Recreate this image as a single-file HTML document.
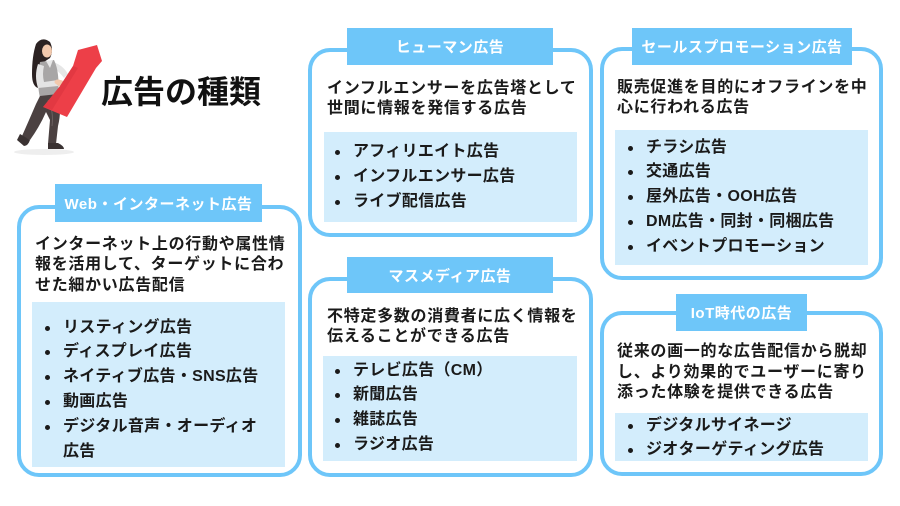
<!DOCTYPE html>
<html lang="ja">
<head>
<meta charset="utf-8">
<style>
  html,body{margin:0;padding:0;background:#fff;}
  body{width:900px;height:506px;position:relative;overflow:hidden;
    font-family:"Liberation Sans","Noto Sans CJK JP",sans-serif;color:#1a1a1a;}
  .box{position:absolute;box-sizing:border-box;border:4px solid #6EC6F9;border-radius:22px;background:#fff;}
  .lbl{position:absolute;background:#6EC6F9;color:#fff;font-weight:700;font-size:15px;
    letter-spacing:0.5px;text-align:center;white-space:nowrap;display:flex;align-items:center;justify-content:center;}
  .fill{position:absolute;background:#D3EDFC;}
  .desc{position:absolute;font-weight:700;font-size:16px;line-height:20.5px;letter-spacing:0.7px;white-space:nowrap;}
  .list{position:absolute;font-weight:700;font-size:16px;line-height:24.8px;letter-spacing:0.3px;white-space:nowrap;}
  .list div{position:relative;padding-left:16px;height:24.8px;}
  .list div.b::before{content:"";position:absolute;left:-2.5px;top:10px;width:5px;height:5px;border-radius:50%;background:#1a1a1a;}
  .title{position:absolute;left:101px;top:72px;font-size:32px;font-weight:700;line-height:40px;color:#111;white-space:nowrap;letter-spacing:0;}
</style>
</head>
<body>

<!-- Figure -->
<svg style="position:absolute;left:0;top:30px" width="110" height="130" viewBox="0 30 110 130">
  <ellipse cx="44" cy="152" rx="30" ry="3" fill="#eeeeee"/>
  <!-- hair -->
  <path d="M36 44 Q42 36 50 42 Q54 50 50 58 L44 62 Q40 78 38 88 Q32 86 32 74 Q32 56 36 44 Z" fill="#2b2222"/>
  <!-- face -->
  <ellipse cx="47" cy="51" rx="5" ry="6.5" fill="#f2c9ad"/>
  <!-- back arm sleeve -->
  <path d="M52 62 Q62 64 68 74 L64 78 Q58 70 52 68 Z" fill="#e6e6e6"/>
  <!-- sweater -->
  <path d="M40 62 L54 60 Q60 72 58 96 L40 98 Q36 80 40 62 Z" fill="#a8a6a6"/>
  <path d="M46 61 L50 68 L53 60 Z" fill="#e8e8e8"/>
  <!-- front arm -->
  <path d="M38 64 Q34 76 38 88 L58 86 L58 80 L44 82 Q42 74 44 66 Z" fill="#e4e4e4"/>
  <ellipse cx="60" cy="83" rx="4" ry="3" fill="#f2c9ad"/>
  <!-- pants -->
  <path d="M40 96 L58 94 Q62 110 58 126 L56 144 L48 144 L50 120 L46 112 Q40 126 30 140 L22 136 Q30 118 36 104 Z" fill="#4b4141"/>
  <path d="M48 100 Q54 112 52 126" stroke="#6a5f5f" stroke-width="1" fill="none"/>
  <!-- shoes -->
  <path d="M20 134 L30 140 Q28 146 24 146 L17 140 Z" fill="#3a3232"/>
  <path d="M48 143 L58 143 Q64 146 64 149 L48 149 Z" fill="#3a3232"/>
  <!-- red arrow -->
  <polygon points="78,50 97,45 102,61 96,68 67,117 43,107 60,86 73,66" fill="#ED3F48"/>
  <polygon points="60,86 73,66 78,68 52,110 43,107" fill="#d8323b" opacity="0.5"/>
  <!-- hand on arrow -->
  <ellipse cx="58" cy="82" rx="3.5" ry="2.5" fill="#f2c9ad"/>
</svg>

<div class="title">広告の種類</div>

<!-- Web -->
<div class="box" style="left:17px;top:205px;width:285px;height:272px;"></div>
<div class="lbl" style="left:55px;top:184px;width:207px;height:38px;">Web・インターネット広告</div>
<div class="desc" style="left:35px;top:234.5px;">インターネット上の行動や属性情<br>報を活用して、ターゲットに合わ<br>せた細かい広告配信</div>
<div class="fill" style="left:32px;top:302px;width:253px;height:165px;"></div>
<div class="list" style="left:47px;top:315.6px;">
  <div class="b">リスティング広告</div>
  <div class="b">ディスプレイ広告</div>
  <div class="b">ネイティブ広告・SNS広告</div>
  <div class="b">動画広告</div>
  <div class="b">デジタル音声・オーディオ</div>
  <div>広告</div>
</div>

<!-- Human -->
<div class="box" style="left:308px;top:48px;width:285px;height:189px;"></div>
<div class="lbl" style="left:347px;top:28px;width:206px;height:37px;">ヒューマン広告</div>
<div class="desc" style="left:327px;top:78.5px;">インフルエンサーを広告塔として<br>世間に情報を発信する広告</div>
<div class="fill" style="left:324px;top:132px;width:253px;height:90px;"></div>
<div class="list" style="left:337px;top:140px;">
  <div class="b">アフィリエイト広告</div>
  <div class="b">インフルエンサー広告</div>
  <div class="b">ライブ配信広告</div>
</div>

<!-- Sales promotion -->
<div class="box" style="left:600px;top:47px;width:283px;height:233px;"></div>
<div class="lbl" style="left:632px;top:28px;width:220px;height:37px;">セールスプロモーション広告</div>
<div class="desc" style="left:617px;top:77.5px;">販売促進を目的にオフラインを中<br>心に行われる広告</div>
<div class="fill" style="left:615px;top:130px;width:253px;height:135px;"></div>
<div class="list" style="left:630px;top:135.6px;">
  <div class="b">チラシ広告</div>
  <div class="b">交通広告</div>
  <div class="b">屋外広告・OOH広告</div>
  <div class="b">DM広告・同封・同梱広告</div>
  <div class="b">イベントプロモーション</div>
</div>

<!-- Mass media -->
<div class="box" style="left:308px;top:277px;width:285px;height:200px;"></div>
<div class="lbl" style="left:347px;top:257px;width:206px;height:36px;">マスメディア広告</div>
<div class="desc" style="left:327px;top:306.5px;">不特定多数の消費者に広く情報を<br>伝えることができる広告</div>
<div class="fill" style="left:323px;top:356px;width:254px;height:105px;"></div>
<div class="list" style="left:337px;top:358.6px;">
  <div class="b">テレビ広告（CM）</div>
  <div class="b">新聞広告</div>
  <div class="b">雑誌広告</div>
  <div class="b">ラジオ広告</div>
</div>

<!-- IoT -->
<div class="box" style="left:600px;top:311px;width:283px;height:165px;"></div>
<div class="lbl" style="left:676px;top:294px;width:131px;height:37px;">IoT時代の広告</div>
<div class="desc" style="left:617px;top:342px;">従来の画一的な広告配信から脱却<br>し、より効果的でユーザーに寄り<br>添った体験を提供できる広告</div>
<div class="fill" style="left:615px;top:413px;width:253px;height:48px;"></div>
<div class="list" style="left:630px;top:413.6px;">
  <div class="b">デジタルサイネージ</div>
  <div class="b">ジオターゲティング広告</div>
</div>

</body>
</html>
